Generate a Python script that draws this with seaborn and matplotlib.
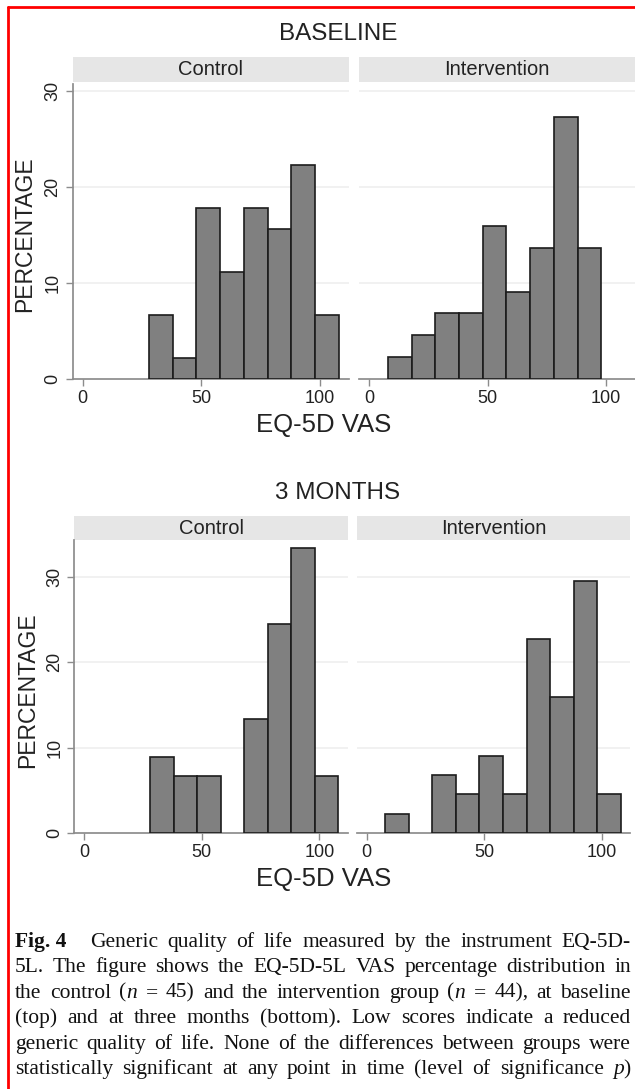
import re
import matplotlib
matplotlib.use("Agg")
import matplotlib.pyplot as plt
import seaborn as sns
from matplotlib.lines import Line2D

# EQ-5D VAS histogram data (percent per 10-point bin, lower bin edge)
bin_width = 10
control_bins = [28, 38, 48, 58, 68, 78, 88, 98]
base_intervention_bins = [8, 18, 28, 38, 48, 58, 68, 78, 88]
m3_intervention_bins = [8, 18, 28, 38, 48, 58, 68, 78, 88, 98]

base_control_pct = [6.67, 2.22, 17.78, 11.11, 17.78, 15.56, 22.22, 6.67]
base_intervention_pct = [2.27, 4.55, 6.82, 6.82, 15.91, 9.09, 13.64, 27.27, 13.64]
m3_control_pct = [8.89, 6.67, 6.67, 0, 13.33, 24.44, 33.33, 6.67]
m3_intervention_pct = [2.27, 0, 6.82, 4.55, 9.09, 4.55, 22.73, 15.91, 29.55, 4.55]

groups = ["Control", "Intervention"]
timepoints = ["BASELINE", "3 MONTHS"]
x_ticks = [0, 50, 100]
y_ticks = [0, 10, 20, 30]

# ~ keeps two pieces in one word, * italic, ** bold
caption = [
    "**Fig.~4**  Generic quality of life measured by the instrument EQ-5D-",
    "5L. The figure shows the EQ-5D-5L VAS percentage distribution in",
    "the control (*n* = 45) and the intervention group (*n* = 44), at baseline",
    "(top) and at three months (bottom). Low scores indicate a reduced",
    "generic quality of life. None of the differences between groups were",
    "statistically significant at any point in time (level of significance *p*)",
]

BAR = "#808080"
EDGE = "#1c1c1c"
STRIP = "#e6e6e6"
GRID = "#efefef"
AXIS = "#8c8c8c"
TXT = "#222222"

sns.set_theme(style="white")
plt.rcParams["font.family"] = ["Liberation Sans", "DejaVu Sans"]

W, H = 635, 1089
fig = plt.figure(figsize=(W / 100, H / 100), dpi=100)


def box(l, r, t, b):
    return [l / W, 1 - b / H, (r - l) / W, (b - t) / H]


def draw_panel(ax, bins, pct, ymax, first):
    edges = bins + [bins[-1] + bin_width]
    centers = [b + bin_width / 2 for b in bins]
    sns.histplot(x=centers, weights=pct, bins=edges, ax=ax, color=BAR,
                 edgecolor=EDGE, linewidth=1.2, alpha=1, zorder=3)
    for p in ax.patches:
        if p.get_height() == 0:
            p.set_visible(False)
    ax.set_xlim(-4.2, 112.2)
    ax.set_ylim(0, ymax)
    ax.set_xticks(x_ticks)
    ax.set_yticks(y_ticks)
    for y in y_ticks[1:]:
        ax.axhline(y, color=GRID, lw=1.2, zorder=0)
    ax.set_xlabel("")
    ax.set_ylabel("")
    for s in ["top", "right"]:
        ax.spines[s].set_visible(False)
    ax.spines["bottom"].set_color(AXIS)
    ax.spines["left"].set_color(AXIS)
    ax.tick_params(axis="x", bottom=True, length=5, width=1, color=AXIS,
                   labelsize=13, labelcolor=TXT, pad=3)
    if first:
        ax.tick_params(axis="y", left=True, length=5, width=1, color=AXIS,
                       labelsize=13, labelcolor=TXT, pad=3)
        plt.setp(ax.get_yticklabels(), rotation=90, va="center")
    else:
        ax.spines["left"].set_visible(False)
        ax.tick_params(axis="y", left=False, labelleft=False)


def strip(l, r, t, b, label):
    sa = fig.add_axes(box(l, r, t, b))
    sa.set_facecolor(STRIP)
    sa.set_xticks([])
    sa.set_yticks([])
    for s in sa.spines.values():
        s.set_visible(False)
    sa.text(0.5, 0.5, label, ha="center", va="center", fontsize=14.5, color=TXT,
            transform=sa.transAxes)


rows = [
    dict(title="BASELINE", title_y=34, strip_tb=(57, 82), ax_tb=(84, 379), ymax=30.7,
         lefts=[(72.7, 348.7), (359, 635)], ylab_xy=(25, 234), xlab_y=425,
         data=[(control_bins, base_control_pct), (base_intervention_bins, base_intervention_pct)]),
    dict(title="3 MONTHS", title_y=493, strip_tb=(516, 540), ax_tb=(540, 833.3), ymax=34.3,
         lefts=[(74.4, 348), (356.8, 630.4)], ylab_xy=(28, 690), xlab_y=879,
         data=[(control_bins, m3_control_pct), (m3_intervention_bins, m3_intervention_pct)]),
]

for row in rows:
    fig.text(338 / W, 1 - row["title_y"] / H, row["title"], ha="center", va="center",
             fontsize=17.5, color=TXT)
    for i, ((l, r), (bins, pct)) in enumerate(zip(row["lefts"], row["data"])):
        strip(l, r, row["strip_tb"][0], row["strip_tb"][1], groups[i])
        ax = fig.add_axes(box(l, r, row["ax_tb"][0], row["ax_tb"][1]))
        draw_panel(ax, bins, pct, row["ymax"], i == 0)
    fig.text(row["ylab_xy"][0] / W, 1 - row["ylab_xy"][1] / H, "PERCENTAGE", rotation=90,
             ha="center", va="center", fontsize=16.5, color=TXT)
    fig.text(324 / W, 1 - row["xlab_y"] / H, "EQ-5D VAS", ha="center", va="center",
             fontsize=18.5, color=TXT)

# justified caption, laid out word by word
renderer = fig.canvas.get_renderer()
serif = ["Liberation Serif", "DejaVu Serif"]
x0, x1 = 15, 631
for k, line in enumerate(caption):
    y = 1 - (947 + 25.4 * k) / H
    words = []
    for w in line.split(" "):
        if w == "":
            continue
        segs = []
        for part in re.split(r"(\*\*[^*]+\*\*|\*[^*]+\*)", w):
            if not part:
                continue
            if part.startswith("**"):
                segs.append((part[2:-2].replace("~", " "), "normal", "bold"))
            elif part.startswith("*"):
                segs.append((part[1:-1], "italic", "normal"))
            else:
                segs.append((part, "normal", "normal"))
        words.append(segs)
    placed = []
    total = 0
    for segs in words:
        wt = []
        for s, st, wgt in segs:
            t = fig.text(0, y, s, fontfamily=serif, fontsize=15.5, fontstyle=st,
                         fontweight=wgt, va="baseline", ha="left", color="#111111")
            wd = t.get_window_extent(renderer=renderer).width
            wt.append((t, wd))
            total += wd
        placed.append(wt)
    extra = 1.5 if k == 0 else 0
    gap = (x1 - x0 - total) / (len(placed) - 1 + extra)
    x = x0
    for j, wt in enumerate(placed):
        for t, wd in wt:
            t.set_x(x / W)
            x += wd
        x += gap * (1 + extra if (k == 0 and j == 0) else 1.0)

# red frame of the screenshot
fig.add_artist(Line2D([8 / W, 8 / W], [0, 1 - 7 / H], color="red", lw=2))
fig.add_artist(Line2D([8 / W, 1], [1 - 7 / H, 1 - 7 / H], color="red", lw=2))

fig.savefig("out.png", dpi=100)
